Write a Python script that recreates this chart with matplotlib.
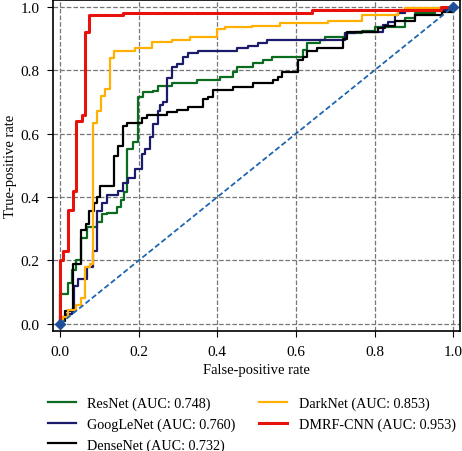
import matplotlib
matplotlib.use("Agg")
import matplotlib.pyplot as plt

plt.rcParams['font.family'] = ['Liberation Serif', 'DejaVu Serif']

# ROC step curves (fpr where tpr jumps, tpr after the jump)
resnet_fpr = [0, 0.02, 0.031, 0.041, 0.053, 0.069, 0.094, 0.107, 0.12, 0.145, 0.155, 0.163,
              0.17, 0.186, 0.198, 0.211, 0.237, 0.249, 0.285, 0.349, 0.407, 0.44, 0.45,
              0.491, 0.517, 0.539, 0.618, 0.629, 0.662, 0.674, 0.725, 0.768, 0.802,
              0.878, 0.903, 0.954, 1.0]
resnet_tpr = [0.095, 0.13, 0.17, 0.2, 0.27, 0.305, 0.32, 0.345, 0.35, 0.37, 0.39, 0.415,
              0.55, 0.575, 0.715, 0.73, 0.735, 0.75, 0.76, 0.77, 0.78, 0.795, 0.81,
              0.824, 0.833, 0.843, 0.865, 0.887, 0.896, 0.906, 0.918, 0.925, 0.937,
              0.965, 0.98, 0.987, 1.0]

googlenet_fpr = [0, 0.018, 0.031, 0.036, 0.046, 0.069, 0.084, 0.094, 0.107, 0.12, 0.148,
                 0.16, 0.173, 0.191, 0.209, 0.216, 0.229, 0.237, 0.249, 0.254, 0.262,
                 0.272, 0.285, 0.298, 0.313, 0.326, 0.351, 0.45, 0.478, 0.504, 0.527,
                 0.725, 0.751, 0.822, 0.835, 0.852, 0.86, 0.878, 0.891, 1.0]
googlenet_tpr = [0.02, 0.03, 0.04, 0.12, 0.14, 0.18, 0.23, 0.355, 0.38, 0.405, 0.42,
                 0.445, 0.46, 0.49, 0.535, 0.55, 0.59, 0.63, 0.67, 0.69, 0.70,
                 0.775, 0.81, 0.82, 0.843, 0.855, 0.86, 0.87, 0.875, 0.887, 0.897,
                 0.918, 0.922, 0.943, 0.953, 0.975, 0.98, 0.987, 0.99, 1.0]

densenet_fpr = [0, 0.013, 0.025, 0.033, 0.053, 0.066, 0.074, 0.087, 0.094, 0.102, 0.137,
                0.148, 0.16, 0.17, 0.209, 0.221, 0.272, 0.298, 0.326, 0.364, 0.377,
                0.389, 0.44, 0.491, 0.542, 0.555, 0.565, 0.606, 0.618, 0.629, 0.654,
                0.72, 0.73, 0.809, 0.827, 0.852, 0.903, 0.972, 1.0]
densenet_tpr = [0.01, 0.04, 0.045, 0.19, 0.295, 0.315, 0.355, 0.38, 0.40, 0.435, 0.53,
                0.56, 0.625, 0.635, 0.65, 0.66, 0.667, 0.676, 0.685, 0.71, 0.717,
                0.739, 0.748, 0.76, 0.77, 0.78, 0.796, 0.833, 0.843, 0.86, 0.87,
                0.90, 0.92, 0.933, 0.94, 0.955, 0.975, 0.985, 1.0]

darknet_fpr = [0, 0.008, 0.02, 0.041, 0.053, 0.064, 0.076, 0.084, 0.094, 0.104, 0.115,
               0.127, 0.137, 0.191, 0.234, 0.285, 0.331, 0.4, 0.42, 0.489, 0.56, 0.682,
               0.768, 0.86, 0.878, 1.0]
darknet_tpr = [0.01, 0.02, 0.045, 0.06, 0.08, 0.18, 0.19, 0.635, 0.67, 0.72, 0.74,
               0.84, 0.86, 0.87, 0.89, 0.895, 0.905, 0.93, 0.935, 0.94, 0.95, 0.955,
               0.975, 0.99, 0.995, 1.0]

dmrf_fpr = [0, 0.008, 0.021, 0.032, 0.041, 0.056, 0.064, 0.074, 0.16, 0.64, 0.97, 1.0]
dmrf_tpr = [0.2, 0.23, 0.36, 0.42, 0.64, 0.66, 0.92, 0.975, 0.98, 0.99, 1.0, 1.0]

labels = ['ResNet (AUC: 0.748)', 'GoogLeNet (AUC: 0.760)', 'DenseNet (AUC: 0.732)',
          'DarkNet (AUC: 0.853)', 'DMRF-CNN (AUC: 0.953)']
colors = ['#0b6b1f', '#1b1a6b', '#000000', '#ffb000', '#e8120c']

curves = [(resnet_fpr, resnet_tpr), (googlenet_fpr, googlenet_tpr),
          (densenet_fpr, densenet_tpr), (darknet_fpr, darknet_tpr), (dmrf_fpr, dmrf_tpr)]

fig = plt.figure(figsize=(4.62, 4.52), dpi=100)
ax = fig.add_axes([0.115, 0.266, 0.881, 0.732])

ax.plot([0, 1], [0, 1], linestyle='--', color='#1f66b0', lw=1.3, dashes=(3, 1.5),
        marker='D', markersize=5, markerfacecolor='#1f4f9a', markeredgecolor='#1f4f9a', zorder=3)

for (fpr, tpr), lab, col in zip(curves, labels, colors):
    lw = 2.2 if col == '#e8120c' else 1.6
    ax.step([0] + fpr, [0] + tpr, where='post', color=col, lw=lw, label=lab)

ax.set_xlim(-0.018, 1.018)
ax.set_ylim(-0.022, 1.022)
ax.set_xticks([0, 0.2, 0.4, 0.6, 0.8, 1.0])
ax.set_yticks([0, 0.2, 0.4, 0.6, 0.8, 1.0])
ax.grid(True, linestyle='--', color='#777777', lw=0.9)
ax.tick_params(labelsize=11, length=4, pad=6)
for s in ax.spines.values():
    s.set_linewidth(1.2)

ax.set_xlabel('False-positive rate', fontsize=10.5, labelpad=4)
ax.set_ylabel('True-positive rate', fontsize=10.5, labelpad=2)

fig.legend(loc='upper left', bbox_to_anchor=(0.091, 0.132), borderaxespad=0, ncol=2,
           frameon=False, fontsize=10.2, handlelength=2.0, handletextpad=0.8,
           columnspacing=1.65, labelspacing=0.5)

fig.savefig('out.png', dpi=100)
